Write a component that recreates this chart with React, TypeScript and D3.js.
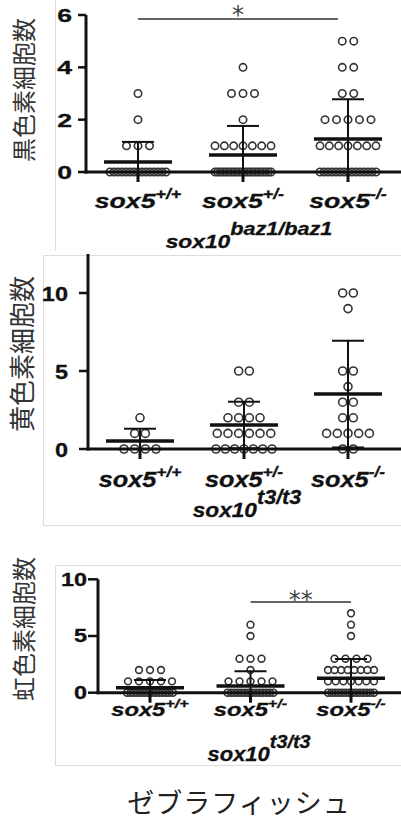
import React from "react";
import * as d3 from "d3";

const groups = ["+/+", "+/-", "-/-"];

// fish per cell count, index = number of cells counted
const blackCounts = [[15, 3, 1, 1], [22, 7, 1, 3, 1], [15, 7, 5, 2, 2, 2]];
const blackMean = [0.38, 0.65, 1.26];
const blackSd = [0.77, 1.11, 1.52];
const blackTicks = [0, 2, 4, 6];

const yellowCounts = [[4, 2, 1], [7, 6, 4, 2, 0, 2], [2, 5, 2, 2, 1, 2, 0, 0, 0, 1, 2]];
const yellowMean = [0.51, 1.54, 3.52];
const yellowSd = [0.79, 1.49, 3.42];
const yellowTicks = [0, 5, 10];

const iridoCounts = [[14, 5, 3], [14, 5, 1, 3, 0, 1, 1], [14, 7, 8, 4, 0, 1, 1, 1]];
const iridoMean = [0.44, 0.59, 1.27];
const iridoSd = [0.68, 1.31, 1.7];
const iridoTicks = [0, 5, 10];

const LATIN = "'Liberation Sans', Arial, sans-serif";
const CJK = "'Noto Sans CJK JP', 'Noto Sans', sans-serif";
const INK = "#111";

const panels = [
  {
    label: "黒色素細胞数", counts: blackCounts, mean: blackMean, sd: blackSd, ticks: blackTicks,
    yDomain: [0, 6], yRange: [172, 15], xRange: [138, 348], axisX: 86, tickLen: 8, tickGap: 6,
    labelX: 22, labelY: 90, labelSize: 24,
    tickSize: 19, tickSx: 1.4,
    catY: 208, catSize: 21, catSx: 1.27, supSize: 14, supDy: -9,
    geno: "baz1/baz1", genoX: 249, genoY: 248, genoSize: 19, genoSx: 1.2, genoSup: 18, genoDy: -13,
    r: 3.7, spacing: 11.5, maxSpan: 56,
    sig: { from: 0, to: 2, v: 5.85, text: "*", endPad: -10, size: 24, dy: 3.6 },
  },
  {
    label: "黄色素細胞数", counts: yellowCounts, mean: yellowMean, sd: yellowSd, ticks: yellowTicks,
    yDomain: [0, 12.5], yRange: [449, 254], xRange: [140, 348], axisX: 88, tickLen: 9, tickGap: 11,
    labelX: 20, labelY: 354, labelSize: 26,
    tickSize: 21, tickSx: 1.12,
    catY: 487, catSize: 22, catSx: 1.15, supSize: 15, supDy: -10,
    geno: "t3/t3", genoX: 247, genoY: 517, genoSize: 21, genoSx: 1.08, genoSup: 20, genoDy: -13,
    r: 4, spacing: 10.7, maxSpan: 56,
    sig: null,
  },
  {
    label: "虹色素細胞数", counts: iridoCounts, mean: iridoMean, sd: iridoSd, ticks: iridoTicks,
    yDomain: [0, 10], yRange: [692.7, 579.3], xRange: [150, 351], axisX: 98, tickLen: 10, tickGap: 1,
    labelX: 22, labelY: 629, labelSize: 24,
    tickSize: 18, tickSx: 1.3,
    catY: 716, catSize: 19, catSx: 1.25, supSize: 13, supDy: -8,
    geno: "t3/t3", genoX: 259, genoY: 761, genoSize: 20, genoSx: 1.1, genoSup: 18, genoDy: -13,
    r: 3.4, spacing: 11, maxSpan: 46,
    sig: { from: 1, to: 2, v: 8, text: "**", endPad: 0, size: 24, dy: 6 },
  },
];

function Panel({ p }: { p: any }) {
  const y = d3.scaleLinear().domain(p.yDomain).range(p.yRange);
  const x = d3.scalePoint<string>().domain(groups).range(p.xRange);
  const y0 = y(0);

  const dots: { cx: number; cy: number }[] = [];
  p.counts.forEach((row: number[], gi: number) => {
    row.forEach((k, v) => {
      const s = k > 1 ? Math.min(p.spacing, p.maxSpan / (k - 1)) : 0;
      for (let i = 0; i < k; i++) {
        dots.push({ cx: (x(groups[gi]) as number) + (i - (k - 1) / 2) * s, cy: y(v) });
      }
    });
  });

  return (
    <g>
      <text
        transform={`translate(${p.labelX},${p.labelY}) rotate(-90)`}
        textAnchor="middle" dominantBaseline="central"
        fontFamily={CJK} fontSize={p.labelSize} fill="#333"
      >{p.label}</text>

      {dots.map((d, i) => (
        <circle key={i} cx={d.cx} cy={d.cy} r={p.r} fill="none" stroke="#333" strokeWidth={1.6} />
      ))}

      {groups.map((g, gi) => {
        const cx = x(g) as number;
        const lo = Math.max(0, p.mean[gi] - p.sd[gi]);
        const hi = p.mean[gi] + p.sd[gi];
        return (
          <g key={g} stroke={INK}>
            <line x1={cx} x2={cx} y1={y(lo)} y2={y(hi)} strokeWidth={2} />
            <line x1={cx - 16} x2={cx + 16} y1={y(hi)} y2={y(hi)} strokeWidth={2} />
            {p.mean[gi] - p.sd[gi] >= 0 && (
              <line x1={cx - 16} x2={cx + 16} y1={y(lo)} y2={y(lo)} strokeWidth={2} />
            )}
            <line x1={cx - 34} x2={cx + 34} y1={y(p.mean[gi])} y2={y(p.mean[gi])} strokeWidth={3.5} />
            <line x1={cx} x2={cx} y1={y0} y2={y0 + 10} strokeWidth={3} />
          </g>
        );
      })}

      <line x1={p.axisX} x2={p.axisX} y1={y(p.yDomain[1])} y2={y0 + 1.5} stroke={INK} strokeWidth={3} />
      <line x1={p.axisX - 1.5} x2={401} y1={y0} y2={y0} stroke={INK} strokeWidth={3} />
      {p.ticks.map((t: number) => (
        <g key={t}>
          <line x1={p.axisX - p.tickLen} x2={p.axisX} y1={y(t)} y2={y(t)} stroke={INK} strokeWidth={2.5} />
          <text
            transform={`translate(${p.axisX - p.tickLen - p.tickGap},${y(t)}) scale(${p.tickSx},1)`}
            textAnchor="end" dy="0.36em"
            fontFamily={LATIN} fontWeight="bold" fontSize={p.tickSize} fill={INK}
            stroke={INK} strokeWidth={0.3}
          >{t}</text>
        </g>
      ))}

      {groups.map((g) => (
        <text
          key={g}
          transform={`translate(${x(g)},${p.catY}) scale(${p.catSx},1)`}
          textAnchor="middle" fontFamily={LATIN} fontWeight="bold" fontStyle="italic"
          fontSize={p.catSize} fill={INK} stroke={INK} strokeWidth={0.3}
        >
          sox5<tspan fontSize={p.supSize} dy={p.supDy}>{g}</tspan>
        </text>
      ))}

      <text
        transform={`translate(${p.genoX},${p.genoY}) scale(${p.genoSx},1)`}
        textAnchor="middle" fontFamily={LATIN} fontWeight="bold" fontStyle="italic"
        fontSize={p.genoSize} fill={INK} stroke={INK} strokeWidth={0.3}
      >
        sox10<tspan fontSize={p.genoSup} dy={p.genoDy}>{p.geno}</tspan>
      </text>

      {p.sig && (
        <g>
          <line
            x1={x(groups[p.sig.from])} x2={(x(groups[p.sig.to]) as number) + p.sig.endPad}
            y1={y(p.sig.v)} y2={y(p.sig.v)} stroke="#333" strokeWidth={1.5}
          />
          <text
            x={((x(groups[p.sig.from]) as number) + (x(groups[p.sig.to]) as number) + p.sig.endPad) / 2}
            y={y(p.sig.v) + p.sig.dy}
            textAnchor="middle" fontFamily="'DejaVu Sans', sans-serif" fontSize={p.sig.size} fill="#444"
          >{p.sig.text}</text>
        </g>
      )}
    </g>
  );
}

export default function App() {
  return (
    <svg width={401} height={824} style={{ position: "absolute", left: 0, top: 0, background: "#fff" }}>
      <rect width={401} height={824} fill="#fff" />
      <g stroke="#dcdcdc" strokeWidth={1} fill="none">
        <line x1={55.5} x2={55.5} y1={0} y2={251} />
        <path d="M401,255.5 H43.5 V525.5 H401" />
        <path d="M401,565.5 H55.5 V765.5 H401" />
      </g>
      {panels.map((p, i) => <Panel key={i} p={p} />)}
      <text
        x={239} y={813} textAnchor="middle" fontFamily={CJK} fontSize={27}
        letterSpacing={1} fill="#222"
      >ゼブラフィッシュ</text>
    </svg>
  );
}
